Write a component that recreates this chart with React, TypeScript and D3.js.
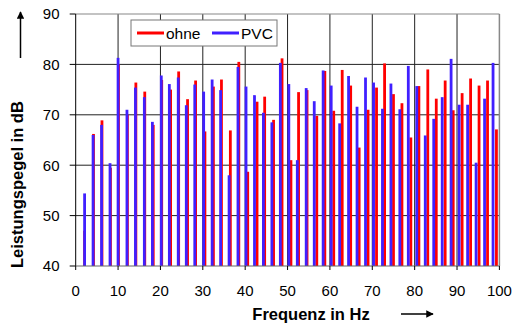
import React from 'react';
import * as d3 from 'd3';

const W = 515;
const H = 325;

// PVC (blue) harmonics: frequency in Hz and level in dB
const pvcFreq = [2.1, 4.1, 6.1, 8.1, 10.0, 12.1, 14.1, 16.2, 18.1, 20.2, 22.1, 24.2, 26.1, 28.1, 30.2, 32.2, 34.2, 36.2, 38.3, 40.2, 42.2, 44.3, 46.3, 48.3, 50.3, 52.3, 54.4, 56.3, 58.4, 60.3, 62.3, 64.4, 66.4, 68.4, 70.3, 72.4, 74.4, 76.5, 78.5, 80.5, 82.5, 84.5, 86.5, 88.6, 90.5, 92.5, 94.5, 96.5, 98.5];
const pvcLevel = [54.4, 66.0, 68.0, 60.4, 81.3, 71.0, 75.4, 73.5, 68.6, 77.8, 76.1, 77.4, 71.9, 76.0, 74.6, 77.0, 74.9, 58.0, 79.5, 75.6, 73.9, 70.4, 68.5, 80.3, 76.1, 61.0, 75.3, 72.7, 78.8, 75.8, 68.3, 77.7, 71.6, 77.4, 76.4, 71.2, 76.2, 71.1, 79.7, 75.7, 65.9, 69.2, 73.5, 81.1, 72.0, 72.0, 60.5, 73.2, 80.3];

// ohne (red) harmonics
const ohneFreq = [2.1, 4.2, 6.2, 8.2, 10.1, 12.2, 14.2, 16.3, 18.3, 20.3, 22.4, 24.3, 26.4, 28.3, 30.5, 32.5, 34.4, 36.5, 38.5, 40.6, 42.8, 44.6, 46.7, 48.7, 50.8, 52.6, 54.6, 56.9, 58.8, 60.9, 62.9, 64.9, 66.9, 69.0, 71.0, 72.9, 75.0, 77.0, 79.1, 81.0, 83.1, 85.1, 87.2, 89.1, 91.2, 93.2, 95.2, 97.2, 99.3];
const ohneLevel = [47.0, 66.2, 68.9, 59.5, 80.0, 70.0, 76.4, 74.6, 68.0, 76.9, 75.0, 78.6, 73.1, 76.8, 66.7, 75.6, 77.0, 66.9, 80.5, 58.7, 72.6, 73.6, 69.0, 81.2, 61.0, 74.5, 74.9, 69.8, 78.7, 70.8, 78.9, 75.8, 63.5, 71.0, 75.4, 80.2, 74.1, 72.3, 65.5, 75.7, 79.0, 73.2, 76.8, 70.9, 74.3, 77.2, 75.8, 76.8, 67.1];

const xTicks = [0, 10, 20, 30, 40, 50, 60, 70, 80, 90, 100];
const yTicks = [40, 50, 60, 70, 80, 90];

const RED = '#ff0000';
const BLUE = '#4020ff';
const FONT = '"Liberation Sans", Arial, sans-serif';

export default function App() {
  const x = d3.scaleLinear().domain([0, 100]).range([75.7, 499.4]);
  const y = d3.scaleLinear().domain([40, 90]).range([266, 14]);
  const base = y(40);

  return (
    <svg width={W} height={H} style={{ position: 'absolute', left: 0, top: 0, background: '#fff' }} fontFamily={FONT}>
      <defs>
        <marker id="arr" viewBox="0 0 10 10" refX="9" refY="5" markerWidth="5" markerHeight="5" orient="auto">
          <path d="M0,0 L10,5 L0,10 z" fill="#000" />
        </marker>
      </defs>

      {/* grid */}
      {yTicks.slice(1, -1).map(t => (
        <line key={'gy' + t} x1={x(0)} x2={x(100)} y1={y(t)} y2={y(t)} stroke="#222" strokeWidth={1} />
      ))}
      {xTicks.slice(1, -1).map(t => (
        <line key={'gx' + t} x1={x(t)} x2={x(t)} y1={y(90)} y2={base} stroke="#222" strokeWidth={1} />
      ))}
      <line x1={x(0)} x2={x(100)} y1={y(90)} y2={y(90)} stroke="#888" strokeWidth={1.2} />
      <line x1={x(100)} x2={x(100)} y1={y(90)} y2={base} stroke="#888" strokeWidth={1.5} />

      {/* spikes */}
      {ohneFreq.map((f, i) => (
        <line key={'r' + i} x1={x(f)} x2={x(f)} y1={base} y2={y(ohneLevel[i])} stroke={RED} strokeWidth={2.8} />
      ))}
      {pvcFreq.map((f, i) => (
        <line key={'b' + i} x1={x(f)} x2={x(f)} y1={base} y2={y(pvcLevel[i])} stroke={BLUE} strokeWidth={2.8} />
      ))}

      {/* axes */}
      <line x1={x(0)} x2={x(0)} y1={y(90)} y2={base} stroke="#000" strokeWidth={1} />
      <line x1={x(0)} x2={x(100)} y1={base} y2={base} stroke="#666" strokeWidth={1.2} />
      {yTicks.map(t => (
        <g key={'ty' + t}>
          <line x1={x(0) - 6} x2={x(0)} y1={y(t)} y2={y(t)} stroke="#000" />
          <text x={59.5} y={y(t)} dy="0.36em" textAnchor="end" fontSize={15}>{t}</text>
        </g>
      ))}
      {xTicks.map(t => (
        <g key={'tx' + t}>
          <line x1={x(t)} x2={x(t)} y1={base} y2={base + 4} stroke="#000" />
          <text x={x(t)} y={296} textAnchor="middle" fontSize={15}>{t}</text>
        </g>
      ))}

      {/* axis titles */}
      <text x={311} y={319.5} textAnchor="middle" fontSize={16.5} fontWeight="bold">Frequenz in Hz</text>
      <line x1={401} x2={433} y1={314} y2={314} stroke="#000" strokeWidth={1.5} markerEnd="url(#arr)" />
      <text transform="translate(22.5,268) rotate(-90)" fontSize={16.5} fontWeight="bold">Leistungspegel in dB</text>
      <line x1={20.5} x2={20.5} y1={58} y2={12} stroke="#000" strokeWidth={1.5} markerEnd="url(#arr)" />

      {/* legend */}
      <rect x={131} y={20} width={146} height={26} fill="#fff" stroke="#777" strokeWidth={1} />
      <line x1={137} x2={164} y1={33} y2={33} stroke={RED} strokeWidth={3} />
      <text x={166} y={33} dy="0.36em" fontSize={15.5}>ohne</text>
      <line x1={212} x2={239} y1={33} y2={33} stroke={BLUE} strokeWidth={3} />
      <text x={241} y={33} dy="0.36em" fontSize={15.5}>PVC</text>
    </svg>
  );
}
